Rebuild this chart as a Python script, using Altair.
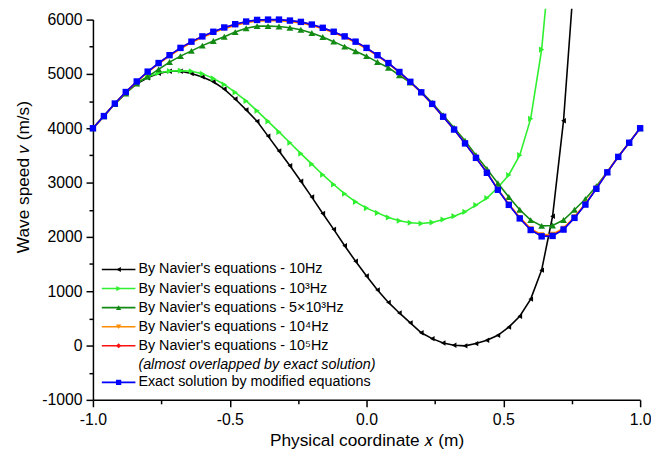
import altair as alt
import pandas as pd

# ---------------- data ----------------
x_grid = [-1.00, -0.96, -0.92, -0.88, -0.84, -0.80, -0.76, -0.72, -0.68, -0.64,
          -0.60, -0.56, -0.52, -0.48, -0.44, -0.40, -0.36, -0.32, -0.28, -0.24,
          -0.20, -0.16, -0.12, -0.08, -0.04, 0.00, 0.04, 0.08, 0.12, 0.16,
          0.20, 0.24, 0.28, 0.32, 0.36, 0.40, 0.44, 0.48, 0.52, 0.56,
          0.60, 0.64, 0.68, 0.72, 0.76, 0.80, 0.84, 0.88, 0.92, 0.96, 1.00]

# 10 Hz (grid points -1.00 .. 0.72) and where the curve leaves the top of the figure
v_10hz = [4000, 4224, 4450, 4650, 4820, 4930, 5010, 5049, 5049, 5006,
          4945, 4855, 4721, 4539, 4339, 4127, 3855, 3582, 3309, 3024,
          2733, 2430, 2139, 1836, 1551, 1279, 1024, 794, 600, 418,
          235, 127, 48, 6, -6, 36, 97, 188, 339, 539,
          855, 1388, 2380, 4139]
tail_10hz_x = [0.750]
tail_10hz_v = [6200]

# 10^3 Hz (grid points -1.00 .. 0.64)
v_1khz = [4000, 4224, 4452, 4660, 4838, 4945, 5020, 5052, 5060, 5050,
          5002, 4918, 4806, 4661, 4503, 4321, 4127, 3933, 3733, 3533,
          3340, 3145, 2964, 2794, 2645, 2530, 2442, 2358, 2297, 2261,
          2248, 2267, 2321, 2382, 2461, 2585, 2715, 2910, 3140, 3505,
          4176, 5448]
tail_1khz_x = [0.654]
tail_1khz_v = [6200]

# 5x10^3 Hz
v_5khz = [4000, 4222, 4445, 4640, 4824, 4950, 5085, 5218, 5327, 5424,
          5521, 5606, 5685, 5770, 5842, 5880, 5880, 5873, 5849, 5812,
          5752, 5679, 5594, 5503, 5418, 5327, 5218, 5115, 4976, 4842,
          4673, 4470, 4240, 4010, 3770, 3505, 3250, 2988, 2733, 2500,
          2309, 2203, 2209, 2310, 2500, 2697, 2933, 3200, 3480, 3740, 4000]

# 10^4 Hz
v_10khz = [4000, 4222, 4450, 4660, 4852, 5030, 5186, 5330, 5462, 5576,
           5672, 5756, 5834, 5893, 5942, 5972, 5978, 5978, 5962, 5938,
           5890, 5830, 5758, 5674, 5578, 5464, 5332, 5188, 5026, 4847,
           4656, 4445, 4211, 3977, 3724, 3460, 3190, 2878, 2604, 2360,
           2152, 2040, 2048, 2162, 2372, 2614, 2898, 3196, 3478, 3736, 4000]

# 10^5 Hz
v_100khz = [4000, 4224, 4454, 4666, 4859, 5040, 5197, 5342, 5476, 5591,
            5688, 5773, 5852, 5912, 5960, 5990, 5996, 5996, 5978, 5954,
            5905, 5846, 5773, 5688, 5591, 5476, 5342, 5197, 5033, 4853,
            4660, 4447, 4212, 3976, 3722, 3456, 3182, 2870, 2594, 2345,
            2133, 2017, 2025, 2141, 2355, 2599, 2888, 3190, 3474, 3734, 4000]

# exact solution
v_exact = [4000, 4224, 4455, 4667, 4861, 5042, 5200, 5345, 5479, 5594,
           5691, 5776, 5855, 5915, 5964, 5994, 6000, 6000, 5982, 5958,
           5909, 5849, 5776, 5691, 5594, 5479, 5345, 5200, 5036, 4855,
           4661, 4448, 4212, 3976, 3721, 3455, 3180, 2867, 2590, 2340,
           2127, 2010, 2018, 2135, 2350, 2595, 2885, 3188, 3473, 3733, 4000]

series_labels = ["By Navier's equations - 10Hz",
                 "By Navier's equations - 10³Hz",
                 "By Navier's equations - 5×10³Hz",
                 "By Navier's equations - 10⁴Hz",
                 "By Navier's equations - 10⁵Hz",
                 "Exact solution by modified equations"]
note_label = "(almost overlapped by exact solution)"

x_ticks = [-1.0, -0.75, -0.5, -0.25, 0.0, 0.25, 0.5, 0.75, 1.0]
y_ticks = [-1000, -500, 0, 500, 1000, 1500, 2000, 2500, 3000, 3500,
           4000, 4500, 5000, 5500, 6000]

# ---------------- styles ----------------
FONT = "Liberation Sans"
colors = ["#000000", "#2ef02e", "#138a13", "#ff8c00", "#ff1010", "#0000ff"]
shapes = ["triangle-left", "triangle-right", "triangle-up", "triangle-down",
          "diamond", "square"]
sizes = [30, 38, 48, 32, 30, 42]

values = [v_10hz, v_1khz, v_5khz, v_10khz, v_100khz, v_exact]
tails = [(tail_10hz_x, tail_10hz_v), (tail_1khz_x, tail_1khz_v),
         ([], []), ([], []), ([], []), ([], [])]

X = alt.X("x:Q",
          scale=alt.Scale(domain=[-1, 1], nice=False, zero=False),
          axis=alt.Axis(values=x_ticks,
                        labelExpr="datum.value % 0.5 === 0 ? replace(format(datum.value, '.1f'), '\u2212', '-') : ''",
                        tickSize={"condition": {"test": "datum.value % 0.5 === 0", "value": 7}, "value": 4},
                        labelOverlap=False, labelFlush=False,
                        labelPadding=5,
                        title="Physical coordinate 𝑥 (m)",
                        titleY=46, titleBaseline="alphabetic"))
Y = alt.Y("v:Q",
          scale=alt.Scale(domain=[-1000, 6000], nice=False, zero=False),
          axis=alt.Axis(values=y_ticks,
                        labelExpr="datum.value % 1000 === 0 ? '' + datum.value : ''",
                        tickSize={"condition": {"test": "datum.value % 1000 === 0", "value": 7}, "value": 4},
                        labelOverlap=False, labelFlush=False,
                        labelPadding=4,
                        title="Wave speed 𝑣 (m/s)",
                        titleX=-61, titleY=159, titleBaseline="bottom",
                        titleAngle=-90))

layers = []
for i, vals in enumerate(values):
    xs = x_grid[:len(vals)]
    tx, tv = tails[i]
    df_line = pd.DataFrame({"x": xs + tx, "v": vals + tv})
    df_pts = pd.DataFrame({"x": xs, "v": vals})
    layers.append(alt.Chart(df_line).mark_line(color=colors[i], strokeWidth=1.6)
                  .encode(x=X, y=Y))
    layers.append(alt.Chart(df_pts).mark_point(filled=True, shape=shapes[i],
                                                size=sizes[i], color=colors[i],
                                                opacity=1, strokeWidth=0)
                  .encode(x=X, y=Y))

# ---------------- legend (inside the plot, lower left) ----------------
row_y = [253, 272.3, 291.6, 310.9, 330.2, 367.3]
note_y = 349.5
leg = pd.DataFrame({
    "label": series_labels,
    "color": colors,
    "shape": shapes,
    "ly": row_y,
    "lx1": [9] * 6, "lx2": [43] * 6, "lxm": [26] * 6, "tx": [46] * 6,
})
note = pd.DataFrame({"label": [note_label], "ly": [note_y], "tx": [46]})

leg_rule = alt.Chart(leg).mark_rule(strokeWidth=1.6).encode(
    x=alt.X("lx1:Q", scale=None, axis=None),
    x2="lx2:Q",
    y=alt.Y("ly:Q", scale=None, axis=None),
    color=alt.Color("color:N", scale=None, legend=None))
leg_pts = alt.Chart(leg).mark_point(filled=True, size=28, opacity=1, strokeWidth=0).encode(
    x=alt.X("lxm:Q", scale=None, axis=None),
    y=alt.Y("ly:Q", scale=None, axis=None),
    color=alt.Color("color:N", scale=None, legend=None),
    shape=alt.Shape("shape:N", scale=None, legend=None))
leg_txt = alt.Chart(leg).mark_text(align="left", baseline="middle", font=FONT,
                                   fontSize=14.5, color="black").encode(
    x=alt.X("tx:Q", scale=None, axis=None),
    y=alt.Y("ly:Q", scale=None, axis=None),
    text="label:N")
note_txt = alt.Chart(note).mark_text(align="left", baseline="middle", font=FONT,
                                     fontSize=14.5, fontStyle="italic", color="black").encode(
    x=alt.X("tx:Q", scale=None, axis=None),
    y=alt.Y("ly:Q", scale=None, axis=None),
    text="label:N")

chart = alt.layer(*layers, leg_rule, leg_pts, leg_txt, note_txt).properties(
    width=554, height=385,
    padding={"left": 86, "top": 9, "right": 11, "bottom": 47},
    autosize=alt.AutoSizeParams(type="none"),
    background="white",
).configure_view(stroke=None).configure_axis(
    grid=False,
    domainColor="black", domainWidth=1.5,
    tickColor="black", tickWidth=1.5,
    labelFont=FONT, labelFontSize=16, labelColor="black",
    titleFont=FONT, titleFontSize=17.5, titleFontWeight="normal", titleColor="black",
)

chart.save("out.html", embed_options={"renderer": "svg", "actions": False})
